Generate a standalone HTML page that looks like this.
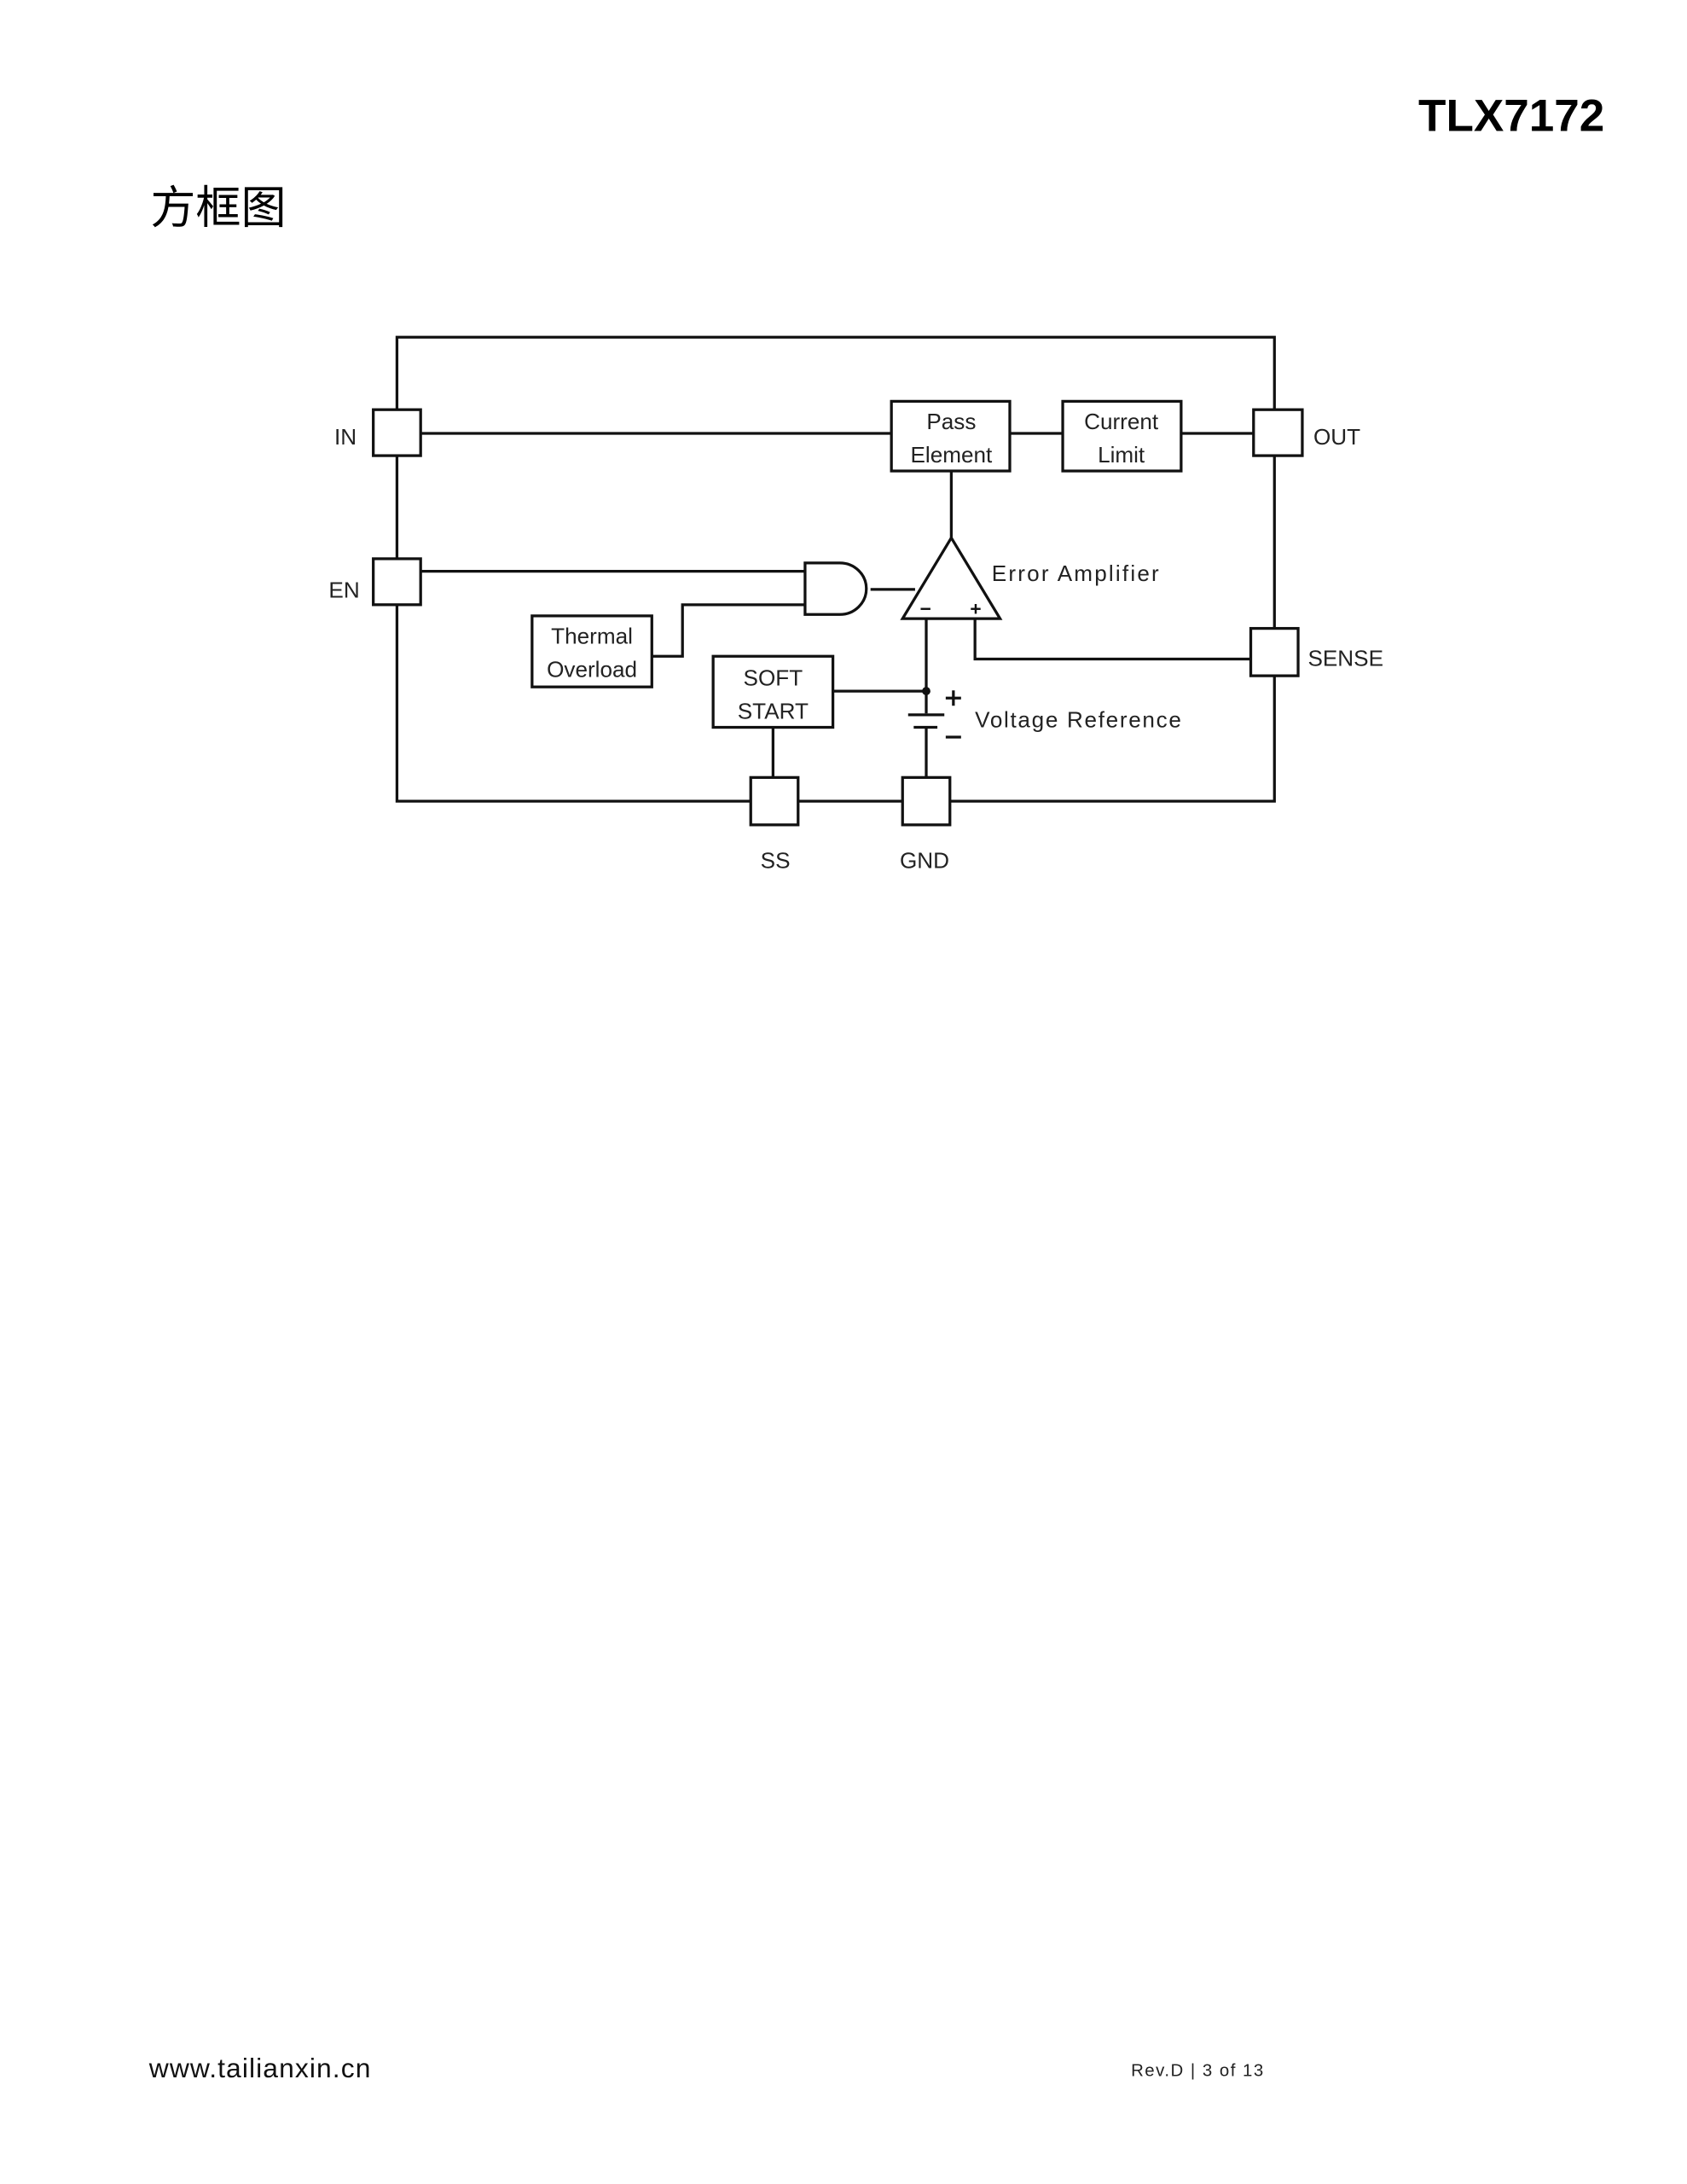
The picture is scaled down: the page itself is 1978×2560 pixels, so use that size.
<!DOCTYPE html>
<html><head><meta charset="utf-8">
<style>
html,body{margin:0;padding:0;background:#fff;}
svg{display:block;}
</style></head>
<body>
<svg width="1978" height="2560" viewBox="0 0 1211.2 1567.5" xmlns="http://www.w3.org/2000/svg">
<rect width="1211.2" height="1567.5" fill="#fff"/>
<text x="1152" y="94" text-anchor="end" font-family="Liberation Sans, sans-serif" font-weight="bold" font-size="32.5" fill="#000">TLX7172</text>
<text x="108" y="160" font-family="Liberation Sans, 'Noto Sans CJK SC', sans-serif" font-size="32.5" fill="#000">方框图</text>

<g stroke="#111" stroke-width="2" fill="none">
  <polyline points="285,294 285,242 915,242 915,294"/>
  <line x1="285" y1="327" x2="285" y2="401"/>
  <polyline points="285,434 285,575 539,575"/>
  <line x1="573" y1="575" x2="648" y2="575"/>
  <polyline points="682,575 915,575 915,485"/>
  <line x1="915" y1="327" x2="915" y2="451"/>
  <rect x="268" y="294" width="34" height="33" fill="#fff"/>
  <rect x="268" y="401" width="34" height="33" fill="#fff"/>
  <rect x="900" y="294" width="35" height="33" fill="#fff"/>
  <rect x="898" y="451" width="34" height="34" fill="#fff"/>
  <rect x="539" y="558" width="34" height="34" fill="#fff"/>
  <rect x="648" y="558" width="34" height="34" fill="#fff"/>
  <rect x="640" y="288" width="85" height="50" fill="#fff"/>
  <rect x="763" y="288" width="85" height="50" fill="#fff"/>
  <rect x="382" y="442" width="86" height="51" fill="#fff"/>
  <rect x="512" y="471" width="86" height="51" fill="#fff"/>
  <line x1="302" y1="311" x2="640" y2="311"/>
  <line x1="725" y1="311" x2="763" y2="311"/>
  <line x1="848" y1="311" x2="900" y2="311"/>
  <line x1="683" y1="338" x2="683" y2="386"/>
  <line x1="302" y1="410" x2="578" y2="410"/>
  <polyline points="468,471 490,471 490,434 578,434"/>
  <line x1="625" y1="423" x2="657" y2="423"/>
  <path d="M578,404 L603,404 A19,18.5 0 0 1 603,441 L578,441 Z" fill="#fff"/>
  <polygon points="683,386 648,444 718,444" fill="#fff"/>
  <polyline points="700,444 700,473 898,473"/>
  <line x1="665" y1="444" x2="665" y2="512"/>
  <line x1="598" y1="496" x2="665" y2="496"/>
  <line x1="652" y1="513" x2="678" y2="513"/>
  <line x1="656" y1="522" x2="673" y2="522"/>
  <line x1="665" y1="522" x2="665" y2="558"/>
  <line x1="555" y1="522" x2="555" y2="558"/>
  <line x1="661" y1="437" x2="668" y2="437" stroke-width="1.5"/>
  <line x1="697" y1="437" x2="704" y2="437" stroke-width="1.5"/>
  <line x1="700.5" y1="433.5" x2="700.5" y2="440.5" stroke-width="1.5"/>
  <line x1="679" y1="501" x2="690" y2="501"/>
  <line x1="684.5" y1="495.5" x2="684.5" y2="506.5"/>
  <line x1="679" y1="529" x2="690" y2="529"/>
</g>
<circle cx="665" cy="496" r="3" fill="#111"/>

<g font-family="Liberation Sans, sans-serif" font-size="16" fill="#222">
  <text x="240" y="319">IN</text>
  <text x="236" y="429">EN</text>
  <text x="943" y="319">OUT</text>
  <text x="939" y="478">SENSE</text>
  <text x="546" y="623">SS</text>
  <text x="646" y="623">GND</text>
  <text x="683" y="308" text-anchor="middle">Pass</text>
  <text x="683" y="332" text-anchor="middle">Element</text>
  <text x="805" y="308" text-anchor="middle">Current</text>
  <text x="805" y="332" text-anchor="middle">Limit</text>
  <text x="425" y="462" text-anchor="middle">Thermal</text>
  <text x="425" y="486" text-anchor="middle">Overload</text>
  <text x="555" y="492" text-anchor="middle">SOFT</text>
  <text x="555" y="516" text-anchor="middle">START</text>
  <text x="712" y="417" textLength="120">Error Amplifier</text>
  <text x="700" y="522" textLength="148">Voltage Reference</text>
</g>

<text x="107" y="1491" font-family="Liberation Sans, sans-serif" font-size="19.5" fill="#111" textLength="159">www.tailianxin.cn</text>
<text x="812" y="1490" font-family="Liberation Sans, sans-serif" font-size="12.5" fill="#222" textLength="95">Rev.D  |  3 of 13</text>
</svg>
</body></html>
